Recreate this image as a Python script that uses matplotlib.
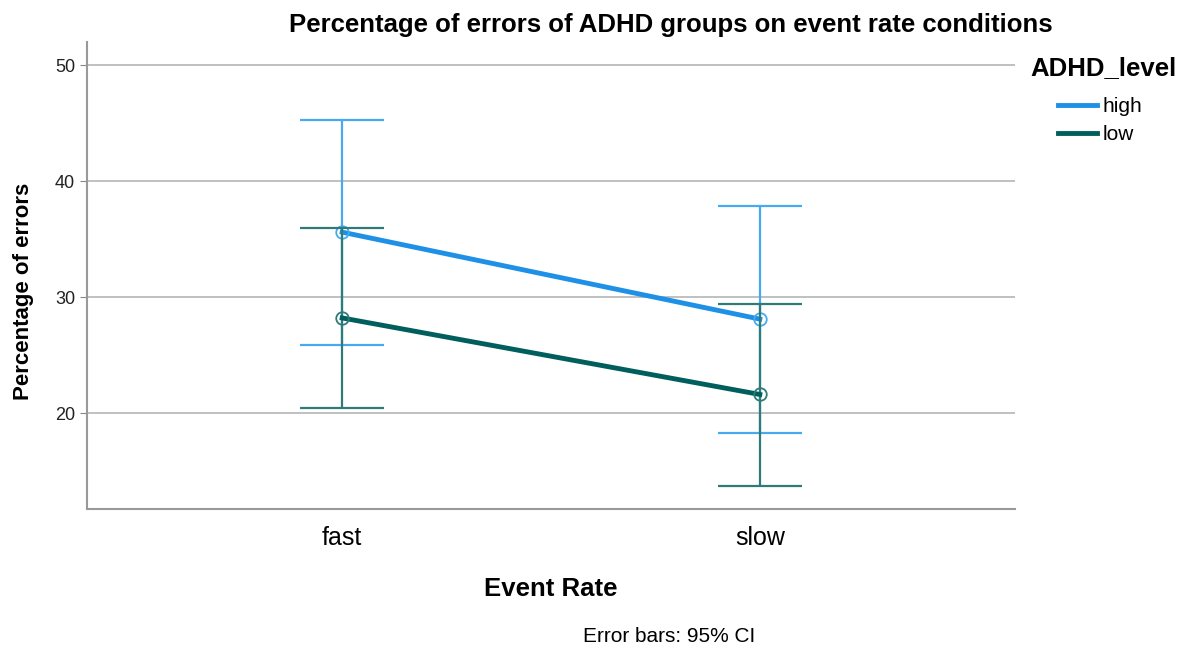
import matplotlib.pyplot as plt
from matplotlib.lines import Line2D

plt.rcParams['font.family'] = ['Liberation Sans', 'DejaVu Sans']

# Data
event_rates = ["fast", "slow"]
high_mean = [35.6, 28.1]
high_upper = [45.3, 37.85]
high_lower = [25.9, 18.3]
low_mean = [28.2, 21.6]
low_upper = [35.95, 29.4]
low_lower = [20.45, 13.7]

high_color = '#1e90e6'
low_color = '#005f5c'
high_err_color = '#48aaee'
low_err_color = '#2f7b78'

fig = plt.figure(figsize=(11.79, 6.5), dpi=100)
ax = fig.add_axes([0.0738, 0.2169, 0.7871, 0.7185])

x = list(range(len(event_rates)))

def plot_series(means, lower, upper, color, err_color, zorder):
    yerr = [[m - l for m, l in zip(means, lower)], [u - m for m, u in zip(means, upper)]]
    ax.errorbar(x, means, yerr=yerr, fmt='none', ecolor=err_color, elinewidth=1.6,
                capsize=30, capthick=1.6, zorder=zorder)
    ax.plot(x, means, color=color, lw=3.5, zorder=zorder + 1)
    ax.plot(x, means, 'o', mfc='none', mec=err_color, ms=9, mew=1.3, zorder=zorder + 2)

plot_series(high_mean, high_lower, high_upper, high_color, high_err_color, 3)
plot_series(low_mean, low_lower, low_upper, low_color, low_err_color, 6)

ax.set_xlim(-0.611, 1.611)
ax.set_ylim(11.72, 52.0)
ax.set_yticks([20, 30, 40, 50])
ax.set_xticks(x)
ax.set_xticklabels(event_rates, fontsize=18)
ax.tick_params(axis='y', labelsize=13, length=5, color='#888888', labelcolor='#222222')
ax.tick_params(axis='x', length=0, pad=12)
ax.grid(axis='y', color='#bbbbbb', lw=1.3)
ax.set_axisbelow(True)
for s in ['top', 'right']:
    ax.spines[s].set_visible(False)
for s in ['left', 'bottom']:
    ax.spines[s].set_color('#999999')
    ax.spines[s].set_linewidth(1.5)

fig.text(671 / 1179, 1 - 25 / 650, 'Percentage of errors of ADHD groups on event rate conditions',
         fontsize=18.5, fontweight='bold', ha='center', va='center')
ax.set_ylabel('Percentage of errors', fontsize=16, fontweight='bold')
ax.yaxis.set_label_coords(-0.057, 0.465)
ax.set_xlabel('Event Rate', fontsize=18.5, fontweight='bold', labelpad=20)

fig.text(0.5675, 1 - 637 / 650, 'Error bars: 95% CI', fontsize=15, ha='center', va='center')

fig.text(1030 / 1179, 1 - 68 / 650, 'ADHD_level', fontsize=18.5, fontweight='bold',
         ha='left', va='center')
handles = [Line2D([], [], color=high_color, lw=3.5), Line2D([], [], color=low_color, lw=3.5)]
fig.legend(handles, ['high', 'low'], loc='upper left', bbox_to_anchor=(1058 / 1179, 1 - 97 / 650),
           frameon=False, fontsize=15, handlelength=1.85, handletextpad=0.3,
           labelspacing=0.45, borderpad=0, borderaxespad=0)

fig.savefig('out.png', dpi=100)
